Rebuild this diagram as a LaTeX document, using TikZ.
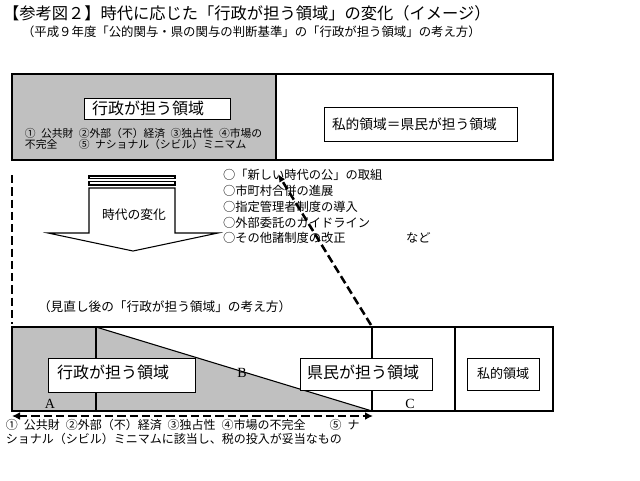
\documentclass[tikz,border=0pt]{standalone}
\usepackage{fontspec}
\setmainfont{Liberation Serif}
\newfontfamily\jp{Noto Sans CJK JP}
\newfontfamily\jpw[WordSpace=2.2]{Noto Sans CJK JP}
\usetikzlibrary{arrows.meta}
\definecolor{boxgray}{RGB}{192,192,192}
\tikzset{
  thinl/.style={line width=0.8pt},
  jt/.style={anchor=west, inner sep=0pt, outer sep=0pt},
  fsize/.style={font=\jp\fontsize{#1}{#1}\selectfont},
  wsize/.style={font=\jpw\fontsize{#1}{#1}\selectfont},
  rbox/.style={draw, line width=0.8pt, fill=white, anchor=north west, inner sep=0pt},
  bigdash/.style={line width=2.2pt, dash pattern=on 6.2pt off 3pt},
  abc/.style={font=\rmfamily\fontsize{10.5pt}{10.5pt}\selectfont, inner sep=0pt},
}
\begin{document}
\begin{tikzpicture}[x=0.75pt,y=-0.75pt]
\useasboundingbox[fill=white] (0,0) rectangle (640,480);

% titles
\node[jt, fsize=12.2pt] (title) at (3,13) {【参考図２】時代に応じた「行政が担う領域」の変化（イメージ）};
\node[jt, fsize=9.3pt] (subtitle) at (22,32) {（平成９年度「公的関与・県の関与の判断基準」の「行政が担う領域」の考え方）};

% top rectangle
\fill[boxgray] (12,74) rectangle (276,160);
\draw[thinl] (12,74) rectangle (553,160);
\draw[line width=1.6pt] (276,74) -- (276,160);
\node[rbox, minimum width=146*0.75pt, minimum height=21*0.75pt] (gov1) at (84,98) {};
\node[jt, fsize=12pt] (gov1t) at (92,108.5) {行政が担う領域};
\node[jt, wsize=8.1pt] (crit1) at (25,133) {① 公共財 ②外部（不）経済 ③独占性 ④市場の};
\node[jt, wsize=8.1pt] (crit2) at (25,144) {不完全　　⑤ ナショナル（シビル）ミニマム};
\node[rbox, minimum width=193*0.75pt, minimum height=34*0.75pt] (priv1) at (324,107) {};
\node[jt, fsize=10.3pt] (priv1t) at (332,124) {私的領域＝県民が担う領域};

% striped down arrow
\draw[thinl] (89,176) rectangle (175,178.3);
\draw[thinl] (89,181.7) rectangle (175,185);
\draw[thinl] (89,188) -- (89,233) -- (48,233) -- (133,251) -- (218,233) -- (175,233) -- (175,188) -- cycle;
\node[fsize=9.6pt, inner sep=0pt] (chg) at (134,215) {時代の変化};

% list
\node[jt, fsize=9.2pt] (l1) at (223,175) {○「新しい時代の公」の取組};
\node[jt, fsize=9.2pt] (l2) at (223,191) {○市町村合併の進展};
\node[jt, fsize=9.2pt] (l3) at (223,207) {○指定管理者制度の導入};
\node[jt, fsize=9.2pt] (l4) at (223,222.5) {○外部委託のガイドライン};
\node[jt, fsize=9.2pt] (l5) at (223,238) {○その他諸制度の改正};
\node[jt, fsize=9.2pt] (etc) at (406,238) {など};

% sub heading
\node[jt, fsize=9.5pt] (sub2) at (38,307) {（見直し後の「行政が担う領域」の考え方）};

% bottom rectangle
\fill[boxgray] (12,327) -- (96,327) -- (372,411) -- (12,411) -- cycle;
\draw[thinl] (12,327) rectangle (553,411);
\draw[thinl] (96,327) -- (96,411);
\draw[thinl] (96,327) -- (372,411);
\draw[thinl] (372,327) -- (372,411);
\draw[thinl] (455,327) -- (455,411);

\node[rbox, minimum width=147*0.75pt, minimum height=34*0.75pt] (gov2) at (48,358) {};
\node[jt, fsize=12pt] (gov2t) at (57,372) {行政が担う領域};
\node[rbox, minimum width=132*0.75pt, minimum height=32*0.75pt] (cit2) at (300,358) {};
\node[jt, fsize=12pt] (cit2t) at (307,372) {県民が担う領域};
\node[rbox, minimum width=72*0.75pt, minimum height=32*0.75pt] (priv2) at (467,358) {};
\node[jt, fsize=9.8pt] (priv2t) at (477,374) {私的領域};

\node[abc] (A) at (50,404) {A};
\node[abc] (B) at (242,373) {B};
\node[abc] (C) at (410,404) {C};

% dashed connectors
\coordinate (vtop) at (12,175);
\coordinate (vbot) at (12,324);
\draw[bigdash] (vtop) -- (vbot);

\coordinate (dtip) at (278,174);
\coordinate (dbase) at (371,325);
\draw[bigdash, line width=1.9pt, -{Latex[length=6pt,width=5pt]}] (dbase) -- (dtip);

\coordinate (hl) at (12,416);
\coordinate (hr) at (373,416);
\draw[bigdash, {Latex[length=6pt,width=6pt]}-{Latex[length=6pt,width=6pt]}] (hl) -- (hr);

% bottom text
\node[jt, fsize=9pt] (note1) at (6,425) {① 公共財 ②外部（不）経済 ③独占性 ④市場の不完全　　⑤ ナ};
\node[jt, fsize=9pt] (note2) at (6,439) {ショナル（シビル）ミニマムに該当し、税の投入が妥当なもの};
\end{tikzpicture}
\end{document}
